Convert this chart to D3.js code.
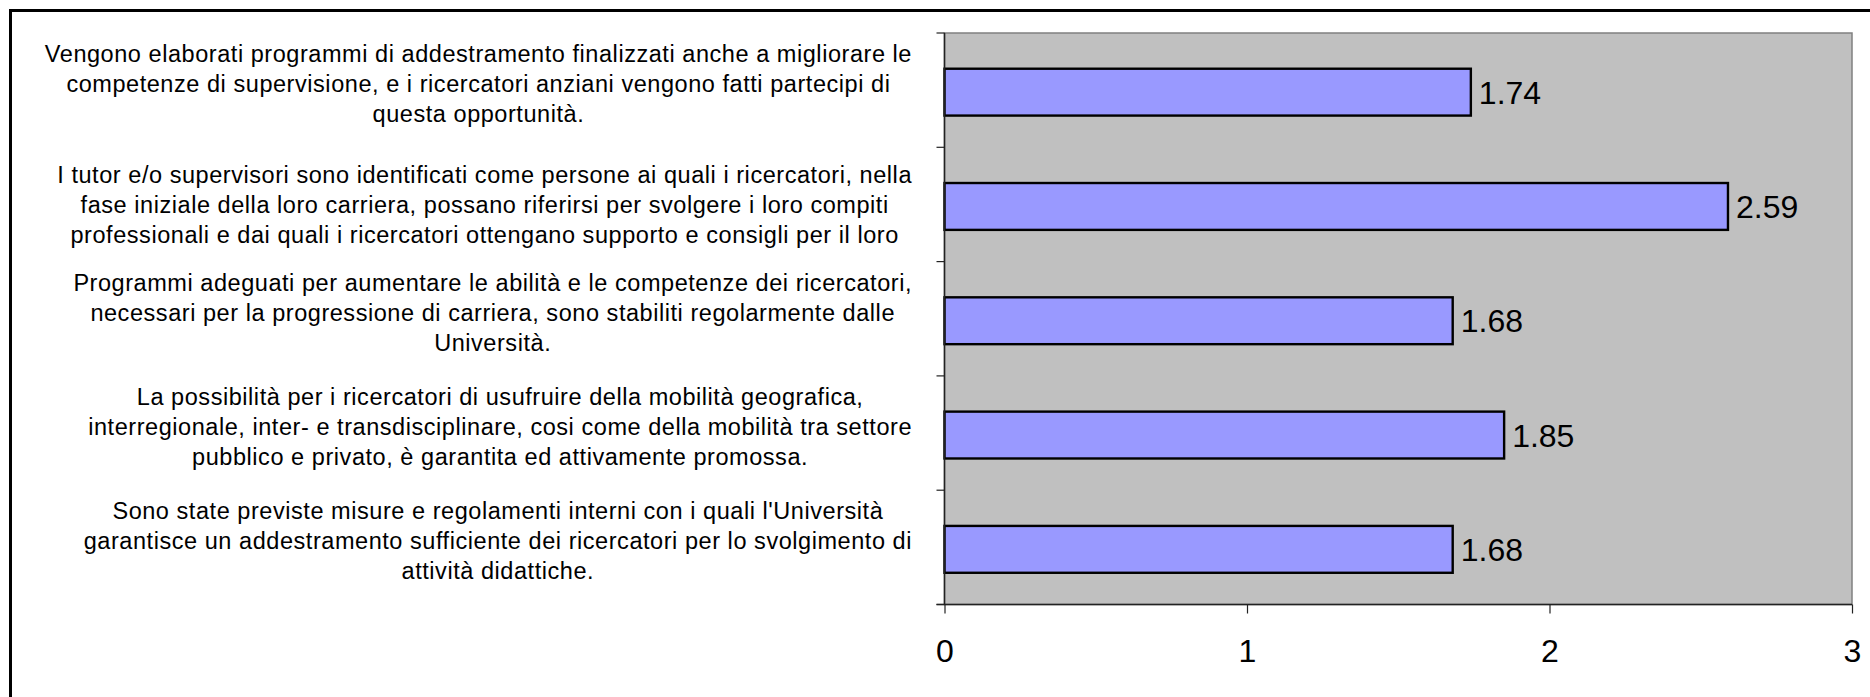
<!DOCTYPE html>
<html>
<head>
<meta charset="utf-8">
<script src="https://cdn.jsdelivr.net/npm/d3@7"></script>
<style>
  body { margin: 0; background: #fff; }
  svg text { font-family: "Liberation Sans", Arial, sans-serif; fill: #000; }
</style>
</head>
<body>
<div id="chart"></div>
<script>
// category labels, top to bottom, already broken into lines as in the picture
var labelLines = [
    ["Vengono elaborati programmi di addestramento finalizzati anche a migliorare le",
     "competenze di supervisione, e i ricercatori anziani vengono fatti partecipi di",
     "questa opportunità."],
    ["I tutor e/o supervisori sono identificati come persone ai quali i ricercatori, nella",
     "fase iniziale della loro carriera, possano riferirsi per svolgere i loro compiti",
     "professionali e dai quali i ricercatori ottengano  supporto e consigli per il loro"],
    ["Programmi adeguati per aumentare le abilità e le competenze dei ricercatori,",
     "necessari per la progressione di carriera, sono stabiliti regolarmente dalle",
     "Università."],
    ["La possibilità per i ricercatori di usufruire della mobilità geografica,",
     "interregionale, inter- e transdisciplinare, cosi come della mobilità tra settore",
     "pubblico e privato, è garantita ed attivamente promossa."],
    ["Sono state previste misure e regolamenti interni con i quali l'Università",
     "garantisce un addestramento sufficiente dei ricercatori per lo svolgimento di",
     "attività didattiche."]
];
// the second label is cut off by Excel (text continues below the last visible line)
var labelCut = [false, true, false, false, false];

var values = [1.74, 2.59, 1.68, 1.85, 1.68];
var xTicks = [0, 1, 2, 3];

function plotChart() {
    var width = 1870, height = 697;
    var plot = { left: 944.5, right: 1852, top: 33, bottom: 604.5 };
    var lineHeight = 30,
        labelRight = 912;

    var svg = d3.select("#chart").append("svg")
      .attr("width", width)
      .attr("height", height);

    // outer frame, only top and left edges are in view
    svg.append("rect")
      .attr("x", 10.5).attr("y", 10.5)
      .attr("width", width + 20).attr("height", height + 20)
      .attr("fill", "none")
      .attr("stroke", "#000")
      .attr("stroke-width", 3);

    var idx = d3.range(values.length);

    var x = d3.scaleLinear().domain([0, 3]).range([plot.left, plot.right]);
    var y = d3.scaleBand().domain(idx).range([plot.top, plot.bottom]).padding(0);

    // plot area
    svg.append("rect")
      .attr("x", plot.left).attr("y", plot.top)
      .attr("width", plot.right - plot.left)
      .attr("height", plot.bottom - plot.top)
      .attr("fill", "#c0c0c0")
      .attr("stroke", "#808080")
      .attr("stroke-width", 1.5);

    var barH = y.bandwidth() * 0.41;

    svg.append("g").selectAll("rect")
      .data(idx)
      .enter().append("rect")
      .attr("x", x(0))
      .attr("y", function(d) { return y(d) + y.bandwidth() / 2 - barH / 2 + 2; })
      .attr("width", function(d) { return x(values[d]) - x(0); })
      .attr("height", barH)
      .attr("fill", "#9999ff")
      .attr("stroke", "#000")
      .attr("stroke-width", 2.4);

    svg.append("g").selectAll("text")
      .data(idx)
      .enter().append("text")
      .attr("x", function(d) { return x(values[d]) + 8; })
      .attr("y", function(d) { return y(d) + y.bandwidth() / 2 + 2 + 11.5; })
      .style("font-size", "32px")
      .text(function(d) { return values[d].toFixed(2); });

    // x axis
    var xAxis = svg.append("g")
      .attr("transform", "translate(0," + plot.bottom + ")")
      .call(d3.axisBottom(x).tickValues(xTicks).tickSize(9).tickPadding(26)
        .tickFormat(d3.format("d")));
    xAxis.select(".domain").attr("stroke", "#222").attr("stroke-width", 1.5)
      .attr("d", "M" + (plot.left - 8) + ",0H" + plot.right);
    xAxis.selectAll(".tick line").attr("stroke", "#222").attr("stroke-width", 1.2);
    xAxis.selectAll(".tick text")
      .style("font-size", "32px")
      .style("font-family", "Liberation Sans, Arial, sans-serif")
      .attr("fill", "#000");

    // y axis: ticks at category boundaries
    var bounds = idx.map(function(d) { return y(d); }).concat([plot.bottom]);
    var yAxis = svg.append("g");
    yAxis.append("line")
      .attr("x1", plot.left).attr("x2", plot.left)
      .attr("y1", plot.top).attr("y2", plot.bottom)
      .attr("stroke", "#222").attr("stroke-width", 1.5);
    yAxis.selectAll(".ytick")
      .data(bounds)
      .enter().append("line")
      .attr("x1", plot.left - 8).attr("x2", plot.left)
      .attr("y1", function(d) { return d; })
      .attr("y2", function(d) { return d; })
      .attr("stroke", "#222").attr("stroke-width", 1.2);

    // category labels: lines centred inside a box that sits against the axis
    var labels = svg.append("g");
    idx.forEach(function(d) {
        var lines = labelLines[d];
        var mid = y(d) + y.bandwidth() / 2 - 6 + (labelCut[d] ? 7 : 0);
        var texts = lines.map(function(line, i) {
            return labels.append("text")
              .attr("y", mid + (i - (lines.length - 1) / 2) * lineHeight + 8)
              .attr("text-anchor", "middle")
              .style("font-size", "23.5px")
              .style("letter-spacing", "0.55px")
              .text(line);
        });
        var maxW = d3.max(texts, function(t) { return t.node().getComputedTextLength(); });
        texts.forEach(function(t) { t.attr("x", labelRight - maxW / 2); });
    });
}

plotChart();
</script>
</body>
</html>
